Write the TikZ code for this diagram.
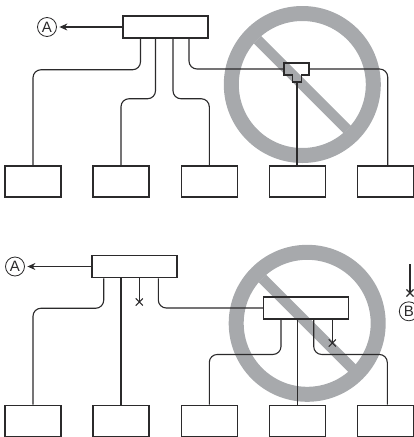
\documentclass[tikz,border=0pt]{standalone}
\usepackage{fontspec}
\setmainfont{Liberation Sans}
\usetikzlibrary{arrows.meta,shapes.misc}
\definecolor{inkdark}{HTML}{2B2A2B}
\definecolor{bangrey}{HTML}{A7A9AC}
\tikzset{
  mainbox/.style={draw=inkdark,line width=1.5pt,minimum width=85pt,minimum height=22pt,inner sep=0pt},
  unitbox/.style={draw=inkdark,line width=1.4pt,minimum width=56pt,minimum height=31pt,inner sep=0pt},
  link/.style={draw=inkdark,line width=1.1pt,rounded corners=8pt},
  tagcircle/.style={draw=inkdark,line width=0.8pt,circle,minimum size=19pt,inner sep=0pt,font=\fontsize{15}{15}\selectfont,text=inkdark},
  crossmark/.style={cross out,draw=inkdark,line width=1.1pt,minimum size=6pt,inner sep=0pt},
  arrowlink/.style={draw=inkdark,line width=1.1pt,shorten >=2.5pt,-{Stealth[length=8pt,width=7pt]}},
  banring/.style={draw=bangrey,line width=15pt},
  banbar/.style={draw=bangrey,line width=10.5pt}
}
\begin{document}
\begin{tikzpicture}[x=1pt,y=-1pt]
  \clip (0,0) rectangle (414,437);

  % top layout
  \draw[banring] (302.3,84.5) circle (71pt);
  \draw[banbar] (302.3,84.5) ++(-45,-45) -- ++(90,90);

  \node[mainbox] (topmain) at (165.5,27) {};
  \node[tagcircle] (topA) at (47,27) {A};
  \draw[arrowlink] (topmain.west) -- (topA.east);

  \node[unitbox] (topa) at (33,181.5) {};
  \node[unitbox] (topb) at (121,181.5) {};
  \node[unitbox] (topc) at (209.3,181.5) {};
  \node[unitbox] (topd) at (297.5,181.5) {};
  \node[unitbox] (tope) at (385.3,181.5) {};

  \coordinate (teeleft) at (284,69);
  \coordinate (teeright) at (309,69);
  \coordinate (teestem) at (297,82);
  \draw[draw=inkdark,line width=1.2pt] (284,63) -- (309,63) -- (309,75) -- (301.7,75) -- (301.7,82)
    -- (292.7,82) -- (292.7,75) -- (284,75) -- cycle;

  \draw[link] ([xshift=-25pt]topmain.south) -- ++(0,31) -| (topa.north);
  \draw[link] ([xshift=-10pt]topmain.south) -- ++(0,60) -| (topb.north);
  \draw[link] ([xshift=7.5pt]topmain.south) -- ++(0,60) -| (topc.north);
  \draw[link] ([xshift=23.5pt]topmain.south) |- (teeleft);
  \draw[link] (teeright) -| ([xshift=2.4pt]tope.north);
  \draw[link] (teestem) -- (teestem |- topd.north);

  % bottom layout
  \draw[banring] (307.2,323.3) circle (71pt);
  \draw[banbar] (307.2,323.3) ++(-45,-45) -- ++(90,90);

  \node[mainbox] (botmain) at (134.7,266.5) {};
  \node[mainbox] (botsub) at (306,308) {};
  \node[tagcircle] (botA) at (15,266.5) {A};
  \draw[arrowlink] (botmain.west) -- (botA.east);

  \node[unitbox] (bota) at (33,420.8) {};
  \node[unitbox] (botb) at (121,420.8) {};
  \node[unitbox] (botc) at (209.3,420.8) {};
  \node[unitbox] (botd) at (297.5,420.8) {};
  \node[unitbox] (bote) at (385.3,420.8) {};

  \node[crossmark] (crossmain) at (139.3,302) {};
  \node[crossmark] (crosssub) at (332.3,343) {};
  \node[crossmark] (crosskey) at (410,293) {};
  \coordinate (keytop) at (410,264.3);
  \node[tagcircle] (keyB) at (408.8,311.3) {B};

  \draw[link] ([xshift=-31pt]botmain.south) -- ++(0,30) -| (bota.north);
  \draw[link] (botmain.south -| botb.north) -- (botb.north);
  \draw[link] ([xshift=4.6pt]botmain.south) -- (crossmain.center);
  \draw[link] ([xshift=23.6pt]botmain.south) |- (botsub.west);
  \draw[link] ([xshift=-25pt]botsub.south) -- ++(0,34.7) -| (botc.north);
  \draw[link] (botsub.south -| botd.north) -- (botd.north);
  \draw[link] ([xshift=7.7pt]botsub.south) -- ++(0,34.7) -| ([xshift=2pt]bote.north);
  \draw[link] ([xshift=26.3pt]botsub.south) -- (crosssub.center);
  \draw[link] (keytop) -- (crosskey.center);
\end{tikzpicture}
\end{document}
